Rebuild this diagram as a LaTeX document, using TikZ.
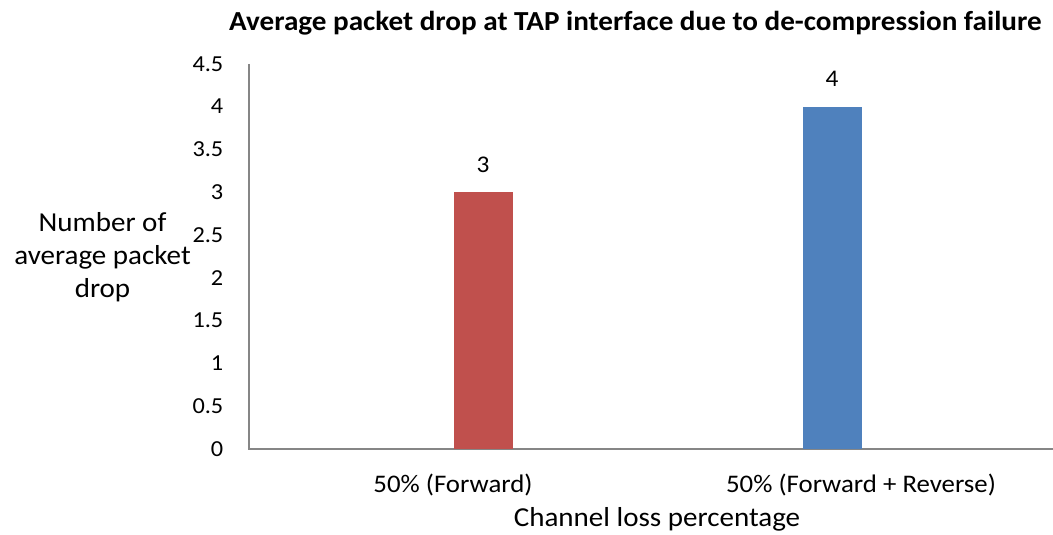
\documentclass[tikz,border=0pt]{standalone}
\usepackage{fontspec}
\setmainfont{Carlito}[FakeStretch=1.06]
\definecolor{barred}{HTML}{C0504D}
\definecolor{barblue}{HTML}{4F81BD}
\definecolor{axisgray}{HTML}{868686}
\begin{document}
\begin{tikzpicture}[x=1bp,y=-1bp,
  ticklabel/.style={anchor=base east,font=\fontsize{23}{27}\selectfont,inner sep=0pt},
  datalabel/.style={anchor=base,font=\fontsize{24}{28}\selectfont,inner sep=0pt},
  catlabel/.style={anchor=base,font=\fontsize{25.4}{30}\selectfont,inner sep=0pt},
  axistitle/.style={font=\fontsize{27.5}{33.4}\selectfont,inner sep=0pt,align=center},
  axisline/.style={draw=axisgray,line width=1.5bp}]
\useasboundingbox (0,0) rectangle (1053,535);
% chart title
\node[anchor=base,font=\bfseries\fontsize{27.6}{32}\selectfont,inner sep=0pt] (title) at (635.5,31) {Average packet drop at TAP interface due to de-compression failure};
% axes
\coordinate (origin) at (249,449);
\coordinate (ytop) at (249,64);
\coordinate (xend) at (1053,449);
\draw[axisline] (ytop) -- (origin) -- (xend);
% value axis labels
\foreach \v/\t in {0/0,0.5/0.5,1/1,1.5/1.5,2/2,2.5/2.5,3/3,3.5/3.5,4/4,4.5/4.5}
  \node[ticklabel] (tick\v) at (223.5,{449-85.6*\v+7.3}) {\t};
% bars
\fill[barred] (454,449) rectangle (513,192) coordinate (redtop);
\fill[barblue] (803,449) rectangle (862,107) coordinate (bluetop);
\node[datalabel] (lab3) at (483,173) {3};
\node[datalabel] (lab4) at (832,87) {4};
% category labels
\node[catlabel] (cat1) at (453,492) {50\% (Forward)};
\node[catlabel] (cat2) at (861,492) {50\% (Forward + Reverse)};
% axis titles
\node[axistitle,anchor=base] (xtitle) at (657,526) {Channel loss percentage};
\node[axistitle] (ytitle) at (102.5,257) {Number of\\average packet\\drop};
\end{tikzpicture}
\end{document}
